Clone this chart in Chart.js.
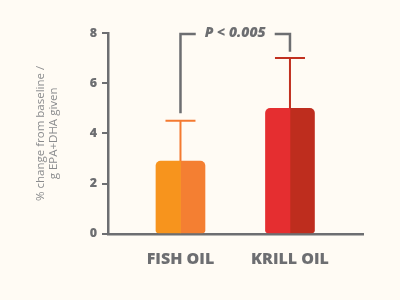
<!DOCTYPE html>
<html><head><meta charset="utf-8">
<script src="https://cdn.jsdelivr.net/npm/chart.js@4/dist/chart.umd.min.js"></script>
<style>
html,body{margin:0;padding:0;background:#FFFBF4;}
#wrap{width:400px;height:300px;position:relative;}
</style></head>
<body><div id="wrap"><canvas id="c" width="400" height="300"></canvas></div>
<script>
const categories = ['FISH OIL', 'KRILL OIL'];
const meanValues = [2.9, 5.0];
const errorUpper = [4.5, 7.0];
const yTicks = [0, 2, 4, 6, 8];
const pLabel = 'P < 0.005';
const bracketTop = 8;
const bracketEnds = [4.8, 7.25];
const leftColors = ['#F7941D', '#E52E30'];
const rightColors = ['#F47F32', '#BE2D1E'];
const errorColors = ['#F47A30', '#C1301F'];

const GRAY = '#6D6E71';

const overlay = {
  id: 'overlay',
  afterDatasetsDraw(chart) {
    const ctx = chart.ctx, xs = chart.scales.x, ys = chart.scales.y;
    ctx.save();
    categories.forEach((c, i) => {
      const x = xs.getPixelForValue(i);
      const yTop = ys.getPixelForValue(meanValues[i]);
      const yErr = ys.getPixelForValue(errorUpper[i]);
      ctx.strokeStyle = errorColors[i];
      ctx.lineWidth = 2;
      ctx.beginPath();
      ctx.moveTo(x, yTop); ctx.lineTo(x, yErr);
      ctx.moveTo(x - 15, yErr); ctx.lineTo(x + 15, yErr);
      ctx.stroke();
    });
    const x0 = xs.getPixelForValue(0), x1 = xs.getPixelForValue(1);
    const yb = ys.getPixelForValue(bracketTop) + 1;
    ctx.font = 'italic 800 14px "Open Sans", sans-serif';
    const tw = ctx.measureText(pLabel).width;
    const mid = (x0 + x1) / 2;
    ctx.strokeStyle = GRAY;
    ctx.lineWidth = 2.5;
    ctx.beginPath();
    ctx.moveTo(x0, ys.getPixelForValue(bracketEnds[0]));
    ctx.lineTo(x0, yb);
    ctx.lineTo(mid - tw / 2 - 9, yb);
    ctx.moveTo(mid + tw / 2 + 9, yb);
    ctx.lineTo(x1, yb);
    ctx.lineTo(x1, ys.getPixelForValue(bracketEnds[1]));
    ctx.stroke();
    ctx.fillStyle = GRAY;
    ctx.textAlign = 'center';
    ctx.textBaseline = 'middle';
    ctx.fillText(pLabel, mid, yb - 1);
    ctx.restore();
  }
};

const bg = {
  id: 'bg',
  beforeDraw(chart) {
    const ctx = chart.ctx;
    ctx.save();
    ctx.fillStyle = '#FFFBF4';
    ctx.fillRect(0, 0, chart.width, chart.height);
    ctx.restore();
  }
};

new Chart(document.getElementById('c'), {
  type: 'bar',
  data: {
    datasets: [
      {
        data: meanValues.map((v, i) => ({x: i, y: v})),
        backgroundColor: leftColors,
        barThickness: 24.5,
        borderRadius: {topLeft: 5, bottomLeft: 3, topRight: 0, bottomRight: 0},
        borderSkipped: false
      },
      {
        data: meanValues.map((v, i) => ({x: i, y: v})),
        backgroundColor: rightColors,
        barThickness: 24.5,
        borderRadius: {topLeft: 0, bottomLeft: 0, topRight: 5, bottomRight: 3},
        borderSkipped: false
      }
    ]
  },
  options: {
    responsive: false,
    animation: false,
    devicePixelRatio: 1,
    layout: {padding: {top: 33, right: 37, bottom: 15, left: 0}},
    plugins: {legend: {display: false}, tooltip: {enabled: false}},
    scales: {
      x: {
        type: 'linear',
        offset: false,
        min: -0.662,
        max: 1.667,
        afterBuildTicks(scale) { scale.ticks = categories.map((c, i) => ({value: i})); },
        ticks: {
          callback: (v) => categories[v],
          color: GRAY,
          font: {family: '"Open Sans", sans-serif', weight: 800, size: 16},
          padding: 16,
          maxRotation: 0,
          autoSkip: false
        },
        grid: {display: false, drawTicks: false, offset: false},
        border: {display: true, color: GRAY, width: 2.5}
      },
      y: {
        min: 0,
        max: 8,
        afterBuildTicks(scale) { scale.ticks = yTicks.map(v => ({value: v})); },
        afterFit(scale) { scale.width = 108; },
        ticks: {
          color: GRAY,
          font: {family: '"Open Sans", sans-serif', weight: 800, size: 12.5},
          padding: 5
        },
        grid: {drawOnChartArea: false, drawTicks: true, tickLength: 6, color: GRAY, lineWidth: 2},
        border: {display: true, color: GRAY, width: 2.5},
        title: {
          display: true,
          text: ['% change from baseline /', 'g EPA+DHA given'],
          color: '#8A8B8D',
          font: {family: '"Open Sans", sans-serif', size: 11.5, lineHeight: 1.13},
          padding: {top: 34, bottom: 0}
        }
      }
    }
  },
  plugins: [bg, overlay]
});
</script>
</body></html>
